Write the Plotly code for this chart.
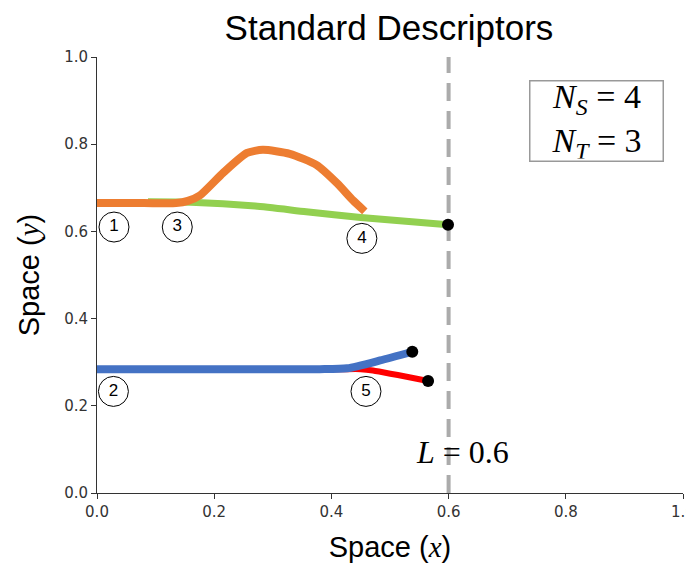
import plotly.graph_objects as go

# ---- data ----
orange_x = [0.0, 0.08, 0.135, 0.155, 0.176, 0.215, 0.256, 0.283, 0.329, 0.375, 0.410, 0.437, 0.457]
orange_y = [0.665, 0.665, 0.665, 0.670, 0.683, 0.734, 0.780, 0.787, 0.778, 0.752, 0.710, 0.671, 0.646]

green_x = [0.087, 0.160, 0.270, 0.357, 0.450, 0.599]
green_y = [0.668, 0.667, 0.658, 0.645, 0.632, 0.615]

blue_x = [0.0, 0.2, 0.38, 0.427, 0.483, 0.538]
blue_y = [0.284, 0.284, 0.284, 0.286, 0.304, 0.324]

red_x = [0.381, 0.420, 0.450, 0.471, 0.565]
red_y = [0.284, 0.284, 0.284, 0.281, 0.257]

end_x = [0.599, 0.538, 0.565]
end_y = [0.615, 0.324, 0.257]

label_text = ["1", "2", "3", "4", "5"]
label_x = [0.029, 0.028, 0.137, 0.452, 0.459]
label_y = [0.610, 0.233, 0.610, 0.584, 0.233]

L_value = 0.6
x_ticks = [0.0, 0.2, 0.4, 0.6, 0.8, 1.0]
y_ticks = [0.0, 0.2, 0.4, 0.6, 0.8, 1.0]

fig = go.Figure()

fig.add_trace(go.Scatter(x=[L_value, L_value], y=[0, 1], mode="lines",
                         line=dict(color="#ABABAB", width=4, dash="18px,10px"),
                         hoverinfo="skip", showlegend=False))
fig.add_trace(go.Scatter(x=green_x, y=green_y, mode="lines",
                         line=dict(color="#92D050", width=7, shape="spline", smoothing=0.6),
                         showlegend=False))
fig.add_trace(go.Scatter(x=orange_x, y=orange_y, mode="lines",
                         line=dict(color="#ED7D31", width=8, shape="spline", smoothing=0.6),
                         showlegend=False))
fig.add_trace(go.Scatter(x=red_x, y=red_y, mode="lines",
                         line=dict(color="#FF0000", width=6, shape="spline", smoothing=0.6),
                         showlegend=False))
fig.add_trace(go.Scatter(x=blue_x, y=blue_y, mode="lines",
                         line=dict(color="#4472C4", width=8, shape="spline", smoothing=0.6),
                         showlegend=False))
fig.add_trace(go.Scatter(x=end_x, y=end_y, mode="markers",
                         marker=dict(color="black", size=12), cliponaxis=False, showlegend=False))
fig.add_trace(go.Scatter(x=label_x, y=label_y, mode="markers+text", text=label_text,
                         textposition="middle center",
                         textfont=dict(family="Liberation Sans", size=17, color="black"),
                         marker=dict(symbol="circle", size=30, color="white",
                                     line=dict(color="black", width=1)),
                         cliponaxis=False, showlegend=False))

fig.add_annotation(x=0.852, y=0.853, xref="x", yref="y", showarrow=False,
                   text="<i>N</i><sub><i>S</i></sub> = 4<br><i>N</i><sub><i>T</i></sub> = 3",
                   font=dict(family="Liberation Serif", size=34, color="black"),
                   bordercolor="#999999", borderwidth=1.5, borderpad=2, bgcolor="white",
                   width=128, height=75, align="center")
fig.add_annotation(x=L_value + 0.023, y=0.094, xref="x", yref="y", showarrow=False,
                   text="<i>L</i> = 0.6",
                   font=dict(family="Liberation Serif", size=32, color="black"))

axis_common = dict(range=[0, 1], showgrid=False, zeroline=False, showline=True,
                   linecolor="#333333", linewidth=1, ticks="outside", ticklen=5,
                   tickcolor="#333333", tickformat=".1f", automargin=False,
                   tickfont=dict(family="DejaVu Sans", size=15, color="#333333"),
                   mirror=False)

fig.update_layout(
    width=694, height=567,
    margin=dict(l=89, r=19, t=49, b=82, autoexpand=False),
    paper_bgcolor="white", plot_bgcolor="white",
    title=dict(text="Standard Descriptors", x=0.549, xanchor="center",
               y=1 - 20 / 567, yanchor="middle", yref="container", automargin=False,
               font=dict(family="Liberation Sans", size=35, color="black")),
    xaxis=dict(**axis_common, tickvals=x_ticks,
               title=dict(text="Space (<span style='font-family:Liberation Serif'><i>x</i></span>)",
                          font=dict(family="Liberation Sans", size=29, color="black"), standoff=16)),
    yaxis=dict(**axis_common, tickvals=y_ticks,
               title=dict(text="Space (<span style='font-family:Liberation Serif'><i>y</i></span>)",
                          font=dict(family="Liberation Sans", size=29, color="black"), standoff=15)),
)

fig.write_html("out.html")
